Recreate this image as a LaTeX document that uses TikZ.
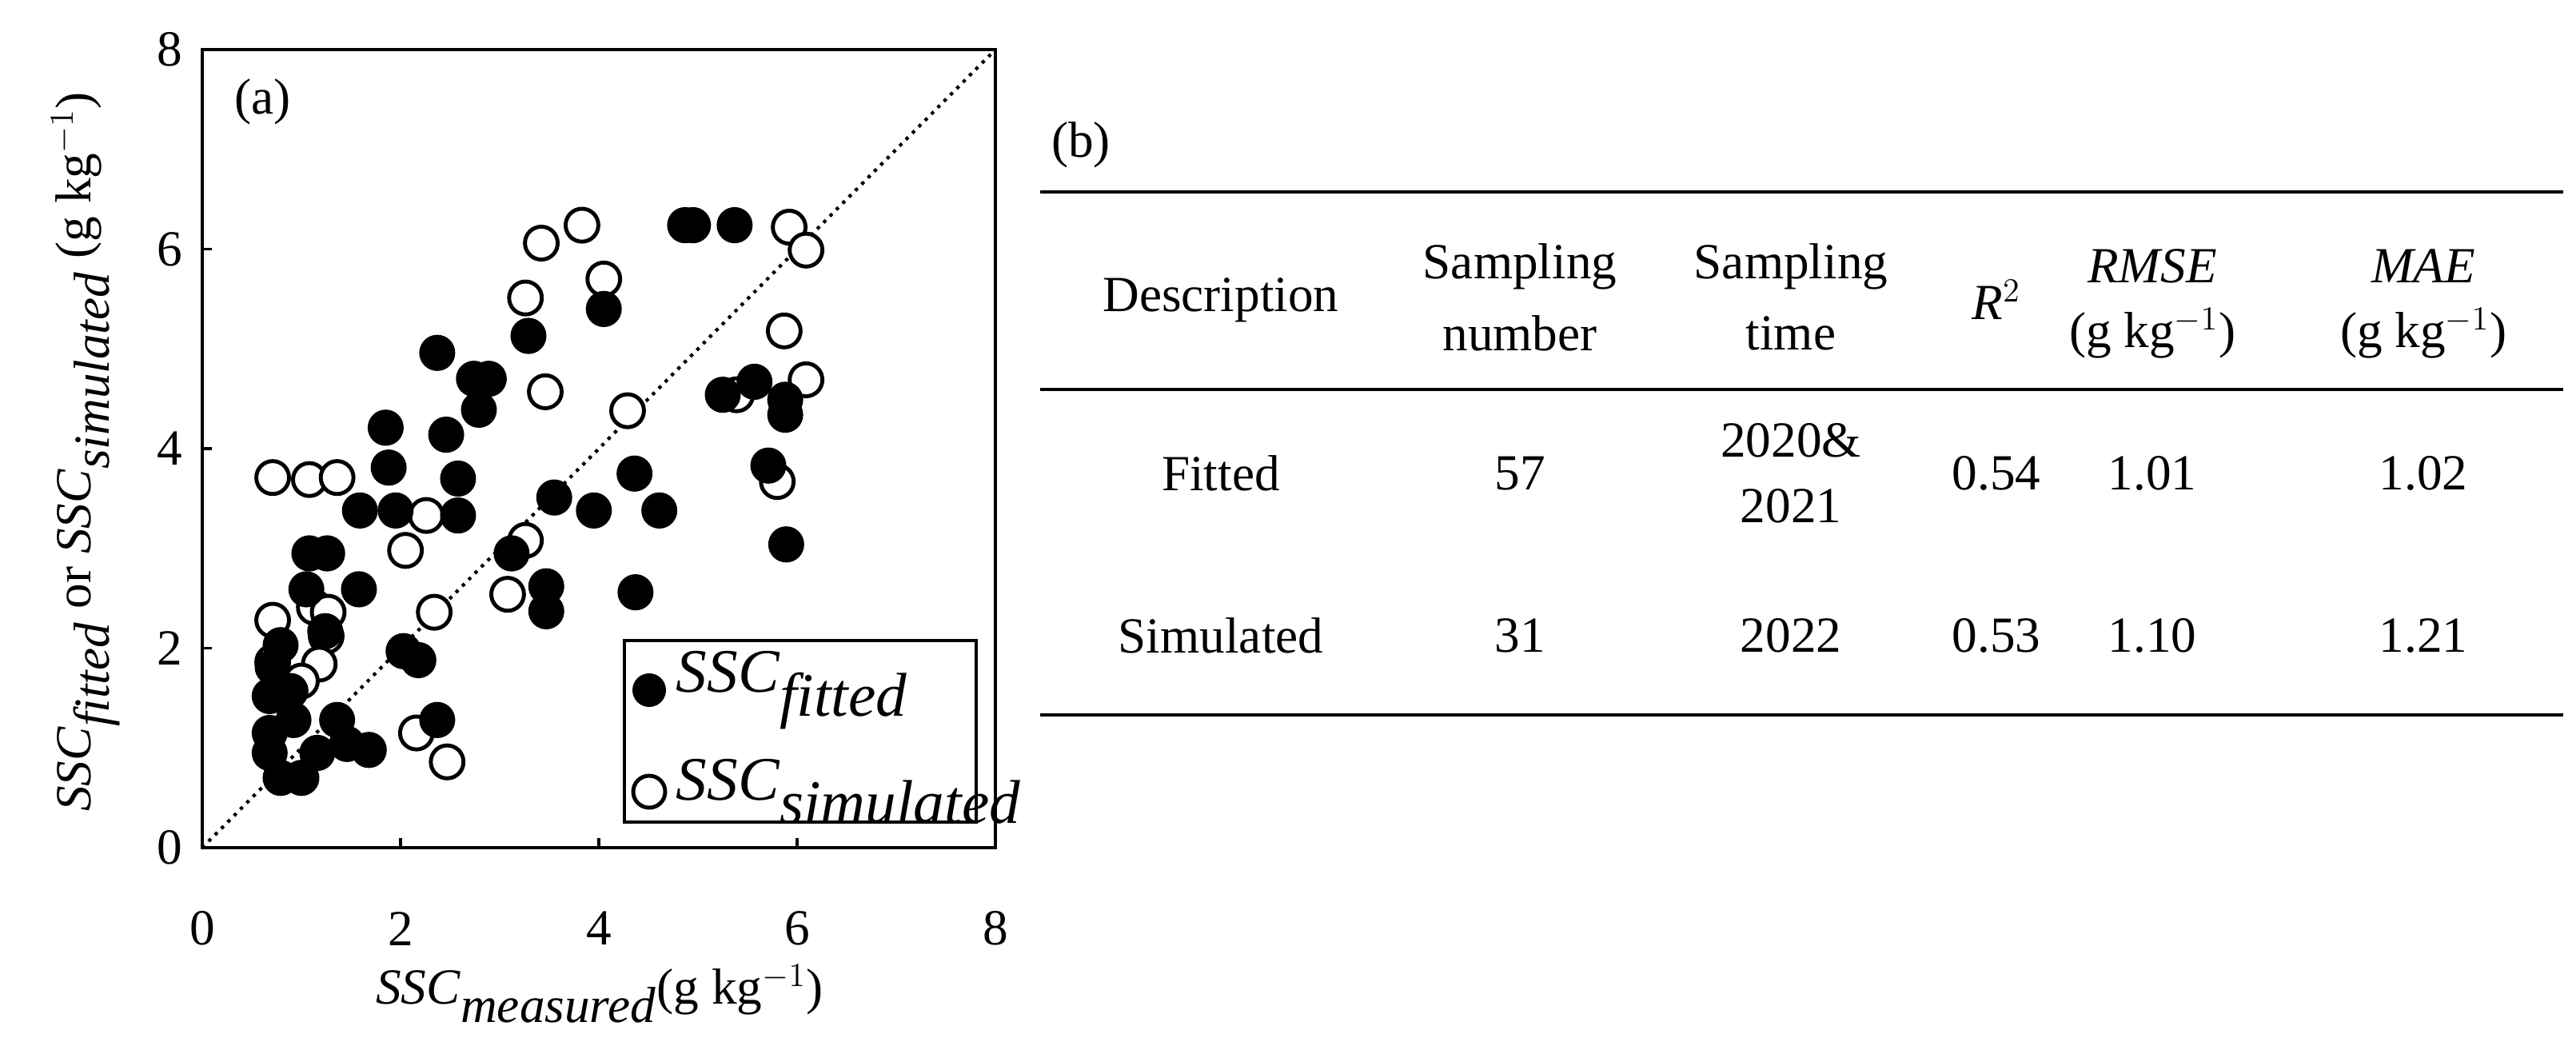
\documentclass[tikz,border=0pt]{standalone}
\usepackage{fontspec}
\setmainfont{Liberation Serif}
\begin{document}
\begin{tikzpicture}[
  lbl/.style={font=\fontsize{18}{21}\selectfont, inner sep=0pt},
  fp/.style={fill=black, draw=black, line width=0.8pt},
  op/.style={fill=white, draw=black, line width=1.4pt}]
\useasboundingbox (0,0) rectangle (32.22,13.12);
\begin{scope}[shift={(2.53,2.52)}, x=1.24cm, y=1.2475cm]
  \draw[line width=1.2pt] (0,0) rectangle (8,8);
  \draw[dotted, line width=1.2pt] (0,0) -- (8,8);
  \foreach \t in {2,4,6} {\draw[line width=1pt] (\t,0) -- (\t,0.1); \draw[line width=1pt] (0,\t) -- (0.1,\t);}
  \foreach \t in {0,2,4,6,8} {
    \node[lbl] (xt\t) at (\t,-0.81) {\t};
    \node[lbl] (yt\t) at (-0.33,\t) {\t};}
  \node[lbl] (pa) at (0.61,7.48) {(a)};
  \foreach \x/\y in {3.83/6.24,3.42/6.06,5.92/6.22,6.09/5.99,4.05/5.70,3.26/5.51,5.87/5.18,3.46/4.57,6.09/4.69,5.39/4.54,4.29/4.38,0.71/3.71,1.08/3.69,1.36/3.71,5.80/3.67,2.26/3.33,2.05/2.98,3.26/3.08,3.08/2.54,1.13/2.41,1.27/2.36,2.34/2.36,0.71/2.28,1.25/2.12,1.18/1.84,0.71/1.86,1.00/1.67,2.16/1.15,2.47/0.86}
    \draw[op] (\x,\y) circle[radius=0.165];
  \foreach \x/\y in {4.95/6.24,4.87/6.24,5.37/6.24,4.05/5.40,3.29/5.13,2.37/4.96,2.74/4.70,2.89/4.70,2.79/4.39,1.85/4.21,2.46/4.14,1.88/3.81,2.58/3.70,1.59/3.38,1.95/3.38,2.58/3.33,3.55/3.51,3.95/3.38,4.36/3.75,4.61/3.38,5.25/4.54,5.57/4.67,5.88/4.49,5.88/4.34,5.71/3.83,5.89/3.04,3.12/2.95,3.47/2.62,3.47/2.37,4.37/2.56,1.08/2.95,1.26/2.95,1.05/2.59,1.58/2.59,1.24/2.17,2.03/1.97,2.18/1.88,0.79/2.03,0.71/1.81,0.89/1.57,0.68/1.52,0.92/1.28,1.36/1.28,0.68/1.15,2.37/1.28,0.68/0.95,1.16/0.95,1.46/1.04,1.68/0.98,0.79/0.70,1.00/0.70}
    \fill[fp] (\x,\y) circle[radius=0.17];
\end{scope}
\draw[line width=1.2pt] (7.81,2.84) rectangle (12.21,5.11);
\fill[black] (8.12,4.49) circle[radius=0.21];
\draw[line width=1.4pt] (8.12,3.22) circle[radius=0.2];
\node[anchor=west, inner sep=0pt, font=\fontsize{22}{26}\selectfont] (lg1) at (8.45,4.49) {\textit{SSC}$_{\textit{fitted}}$};
\node[anchor=west, inner sep=0pt, font=\fontsize{22}{26}\selectfont] (lg2) at (8.45,3.22) {\textit{SSC}$_{\textit{simulated}}$};
\node[lbl] (xtitle) at (7.50,0.69) {\textit{SSC}$_{\textit{measured}}$(g kg$^{-1}$)};
\node[lbl, rotate=90] (ytitle) at (1.07,7.47) {\textit{SSC}$_{\textit{fitted}}$ or \textit{SSC}$_{\textit{simulated}}$ (g kg$^{-1}$)};
% table
\node[lbl] (pb) at (13.52,11.31) {(b)};
\draw[line width=1pt] (13.01,10.72) -- (32.06,10.72);
\draw[line width=1pt] (13.01,8.25) -- (32.06,8.25);
\draw[line width=1pt] (13.01,4.18) -- (32.06,4.18);
\node[lbl] (h1) at (15.27,9.37) {Description};
\node[lbl] (h2a) at (19.01,9.79) {Sampling};
\node[lbl] (h2b) at (19.01,8.95) {number};
\node[lbl] (h3a) at (22.40,9.79) {Sampling};
\node[lbl] (h3b) at (22.40,8.95) {time};
\node[lbl] (h4) at (24.97,9.37) {\textit{R}$^{2}$};
\node[lbl] (h5a) at (26.92,9.79) {\textit{RMSE}};
\node[lbl] (h5b) at (26.92,8.95) {(g kg$^{-1}$)};
\node[lbl] (h6a) at (30.31,9.79) {\textit{MAE}};
\node[lbl] (h6b) at (30.31,8.95) {(g kg$^{-1}$)};
\node[lbl] (r1a) at (15.27,7.20) {Fitted};
\node[lbl] (r1b) at (19.01,7.20) {57};
\node[lbl] (r1c) at (22.40,7.61) {2020\&};
\node[lbl] (r1d) at (22.40,6.79) {2021};
\node[lbl] (r1e) at (24.97,7.20) {0.54};
\node[lbl] (r1f) at (26.92,7.20) {1.01};
\node[lbl] (r1g) at (30.31,7.20) {1.02};
\node[lbl] (r2a) at (15.27,5.17) {Simulated};
\node[lbl] (r2b) at (19.01,5.17) {31};
\node[lbl] (r2c) at (22.40,5.17) {2022};
\node[lbl] (r2e) at (24.97,5.17) {0.53};
\node[lbl] (r2f) at (26.92,5.17) {1.10};
\node[lbl] (r2g) at (30.31,5.17) {1.21};
\end{tikzpicture}
\end{document}
